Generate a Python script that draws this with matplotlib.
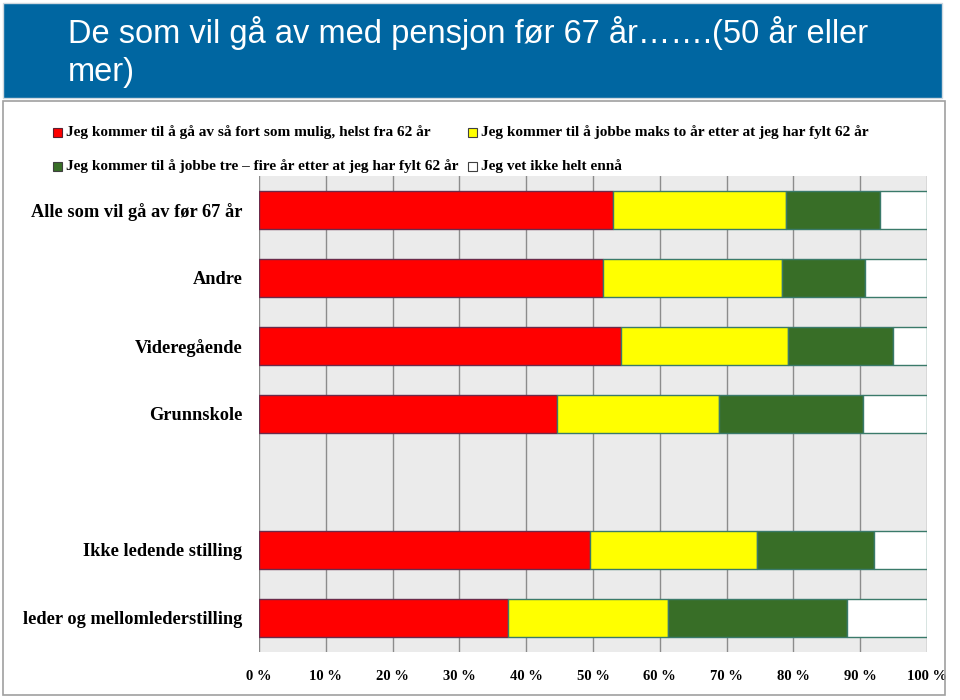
import numpy as np
import matplotlib
matplotlib.use("Agg")
import matplotlib.pyplot as plt
from matplotlib.patches import Rectangle

# data (prosent), fra toppen og ned; tom rad mellom Grunnskole og Ikke ledende
kategorier = ["Alle som vil gå av før 67 år", "Andre", "Videregående", "Grunnskole",
              "", "Ikke ledende stilling", "leder og mellomlederstilling"]
fort_som_mulig = [53.0, 51.5, 54.2, 44.6, np.nan, 49.6, 37.3]
maks_to_aar = [25.9, 26.8, 25.0, 24.3, np.nan, 25.0, 23.9]
tre_fire_aar = [14.1, 12.4, 15.7, 21.5, np.nan, 17.5, 26.8]
vet_ikke = [7.0, 9.3, 5.1, 9.6, np.nan, 7.9, 12.0]

serier = ["Jeg kommer til å gå av så fort som mulig, helst fra 62 år",
          "Jeg kommer til å jobbe maks to år etter at jeg har fylt 62 år",
          "Jeg kommer til å jobbe tre – fire år etter at jeg har fylt 62 år",
          "Jeg vet ikke helt ennå"]
farger = ["#ff0000", "#ffff00", "#386e27", "#ffffff"]
kanter = ["#6b2a4a", "#3a7a6a", "#3a7a6a", "#3a7a6a"]

fig = plt.figure(figsize=(9.6, 7), dpi=100)

# blå tittelboks
fig.patches.append(Rectangle((3 / 960, 1 - 98 / 700), 939 / 960, 95 / 700,
                             transform=fig.transFigure, facecolor="#0066a1",
                             edgecolor="#cfd8e0", linewidth=1))
fig.text(68 / 960, 1 - 33 / 700, "De som vil gå av med pensjon før 67 år…….(50 år eller",
         color="white", fontsize=23.5, family="Liberation Sans", va="center")
fig.text(68 / 960, 1 - 73 / 700, "mer)", color="white", fontsize=23.5,
         family="Liberation Sans", va="center")
# ramme rundt diagrammet
fig.patches.append(Rectangle((3 / 960, 1 - 695 / 700), 942 / 960, 594 / 700,
                             transform=fig.transFigure, facecolor="none",
                             edgecolor="#a0a0a0", linewidth=1.2))

ax = fig.add_axes([259 / 960, 1 - 652 / 700, 668 / 960, 476 / 700])
ax.set_facecolor("#ebebeb")

y = np.arange(len(kategorier))
venstre = np.zeros(len(kategorier))
for verdier, farge, kant in zip([fort_som_mulig, maks_to_aar, tre_fire_aar, vet_ikke], farger, kanter):
    v = np.array(verdier)
    ax.barh(y, v, left=venstre, height=0.56, color=farge, edgecolor=kant, linewidth=1, zorder=3)
    venstre = venstre + np.nan_to_num(v)

ax.set_ylim(len(kategorier) - 0.5, -0.5)
ax.set_xlim(0, 100)
ax.set_xticks(np.arange(0, 101, 10))
ax.set_xticklabels([f"{t} %" for t in range(0, 101, 10)], family="Liberation Serif",
                   fontweight="bold", fontsize=10.5)
ax.set_yticks(y)
ax.set_yticklabels(kategorier, family="Liberation Serif", fontweight="bold", fontsize=13.2)
ax.tick_params(axis="both", length=0)
ax.tick_params(axis="x", pad=13)
ax.tick_params(axis="y", pad=12)
ax.grid(axis="x", color="#8c8c8c", linewidth=1, zorder=0)
for s in ax.spines.values():
    s.set_visible(False)

# legende i to kolonner
posisjoner = [(57, 132), (472, 132), (57, 166), (472, 166)]
for (px, py), navn, farge, kant in zip(posisjoner, serier, farger, ["#5a2030", "#404040", "#404040", "#404040"]):
    fig.patches.append(Rectangle(((px - 4) / 960, 1 - (py + 5) / 700), 9 / 960, 9 / 700,
                                 transform=fig.transFigure, facecolor=farge,
                                 edgecolor=kant, linewidth=0.8))
    fig.text((px + 9) / 960, 1 - py / 700, navn, family="Liberation Serif",
             fontweight="bold", fontsize=11, va="center")

fig.savefig("out.png", dpi=100)
